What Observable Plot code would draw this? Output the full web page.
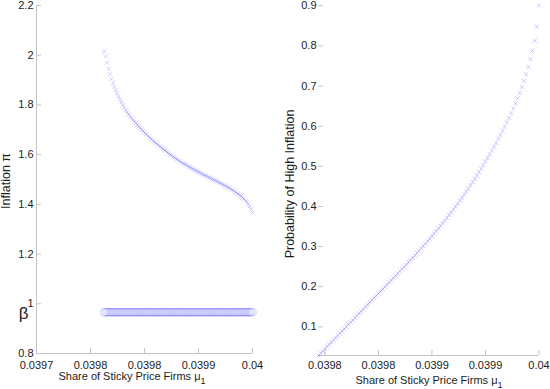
<!DOCTYPE html>
<html><head><meta charset="utf-8">
<script src="https://cdn.jsdelivr.net/npm/d3@7"></script>
<script src="https://cdn.jsdelivr.net/npm/@observablehq/plot@0.6"></script>
<style>
body{margin:0;background:#fff;}
#wrap{display:flex;width:550px;height:389px;overflow:hidden;}
#wrap svg{display:block;flex:none;}
</style></head><body><div id="wrap"></div>
<script>
// share of sticky price firms (x grid)
const mu = [
0.039794,0.039796,0.039798,0.039800,0.039802,0.039804,0.039806,0.039808,0.039810,0.039812,
0.039814,0.039816,0.039818,0.039820,0.039822,0.039824,0.039826,0.039828,0.039830,0.039832,
0.039834,0.039836,0.039838,0.039840,0.039842,0.039844,0.039846,0.039848,0.039850,0.039852,
0.039854,0.039856,0.039858,0.039860,0.039862,0.039864,0.039866,0.039868,0.039870,0.039872,
0.039874,0.039876,0.039878,0.039880,0.039882,0.039884,0.039886,0.039888,0.039890,0.039892,
0.039894,0.039896,0.039898,0.039900,0.039902,0.039904,0.039906,0.039908,0.039910,0.039912,
0.039914,0.039916,0.039918,0.039920,0.039922,0.039924,0.039926,0.039928,0.039930,0.039932,
0.039934,0.039936,0.039938,0.039940,0.039942,0.039944,0.039946,0.039948,0.039950,0.039952,
0.039954,0.039956,0.039958,0.039960,0.039962,0.039964,0.039966,0.039968,0.039970,0.039972,
0.039974,0.039976,0.039978,0.039980,0.039982,0.039984,0.039986,0.039988,0.039990,0.039992,
0.039994,0.039996,0.039998,0.040000];
// high-inflation steady state (left panel, x markers)
const inflationHigh = [
2.0161,1.9947,1.9703,1.9454,1.9239,1.9049,1.8887,1.8740,1.8601,1.8467,
1.8332,1.8218,1.8111,1.8003,1.7897,1.7789,1.7705,1.7624,1.7543,1.7468,
1.7400,1.7333,1.7266,1.7199,1.7137,1.7075,1.7013,1.6951,1.6892,1.6834,
1.6777,1.6719,1.6661,1.6608,1.6559,1.6511,1.6463,1.6415,1.6367,1.6319,
1.6273,1.6227,1.6180,1.6134,1.6088,1.6042,1.5997,1.5957,1.5916,1.5876,
1.5835,1.5795,1.5754,1.5715,1.5681,1.5646,1.5611,1.5577,1.5542,1.5508,
1.5474,1.5443,1.5412,1.5381,1.5350,1.5319,1.5288,1.5256,1.5225,1.5194,
1.5166,1.5137,1.5108,1.5079,1.5051,1.5022,1.4993,1.4964,1.4935,1.4906,
1.4875,1.4844,1.4813,1.4781,1.4750,1.4719,1.4688,1.4657,1.4623,1.4582,
1.4542,1.4501,1.4461,1.4421,1.4380,1.4334,1.4276,1.4219,1.4161,1.4104,
1.4012,1.3913,1.3802,1.3673];
// low-inflation steady state (left panel, circles)
const betaValue = 0.966;
// probability of high inflation (right panel)
const probHigh = [
0.0287,0.0342,0.0397,0.0453,0.0508,0.0563,0.0618,0.0673,0.0729,0.0784,
0.0839,0.0894,0.0949,0.1005,0.1060,0.1115,0.1170,0.1225,0.1281,0.1336,
0.1391,0.1446,0.1502,0.1557,0.1612,0.1667,0.1722,0.1778,0.1833,0.1888,
0.1943,0.1998,0.2054,0.2109,0.2164,0.2219,0.2274,0.2330,0.2385,0.2440,
0.2496,0.2552,0.2608,0.2665,0.2722,0.2780,0.2838,0.2897,0.2956,0.3015,
0.3075,0.3136,0.3198,0.3260,0.3323,0.3387,0.3451,0.3518,0.3583,0.3649,
0.3717,0.3786,0.3855,0.3926,0.3997,0.4069,0.4143,0.4218,0.4293,0.4370,
0.4448,0.4528,0.4609,0.4690,0.4773,0.4858,0.4943,0.5030,0.5119,0.5208,
0.5300,0.5393,0.5488,0.5584,0.5682,0.5782,0.5884,0.5990,0.6095,0.6206,
0.6322,0.6441,0.6565,0.6695,0.6831,0.6974,0.7128,0.7292,0.7471,0.7669,
0.7885,0.8131,0.8480,0.9007];

const leftXTicks = [0.0397, 0.039775, 0.03985, 0.039925, 0.04];
const leftXTickLabels = ["0.0397","0.0398","0.0398","0.0399","0.04"];
const leftYTicks = [0.8, 1, 1.2, 1.4, 1.6, 1.8, 2, 2.2];
const leftYTickLabels = ["0.8","1","1.2","1.4","1.6","1.8","2","2.2"];
const rightXTicks = [0.0398, 0.03985, 0.0399, 0.03995, 0.04];
const rightXTickLabels = ["0.0398","0.0398","0.0399","0.0399","0.04"];
const rightYTicks = [0.1, 0.2, 0.3, 0.4, 0.5, 0.6, 0.7, 0.8, 0.9];
const rightYTickLabels = ["0.1","0.2","0.3","0.4","0.5","0.6","0.7","0.8","0.9"];

const xLabelText = "Share of Sticky Price Firms ";
const leftYLabel = "Inflation \u03c0";
const rightYLabel = "Probability of High Inflation";

const font = '"Liberation Sans", Arial, sans-serif';
const axisColor = "#c4c4c4";
const textColor = "#1c1c1c";
const blue = "#0000ff";
const fmt = (ticks, labels) => d => labels[ticks.indexOf(d)];

const leftXDomain = [0.0397, 0.04];
const leftYDomain = [0.8, 2.2];
const rows = mu.map((m, i) => ({mu: m, pi: inflationHigh[i], p: probHigh[i]}));

const left = Plot.plot({
  width: 275, height: 389,
  marginLeft: 36, marginRight: 23, marginTop: 5, marginBottom: 36,
  style: {fontFamily: font, fontSize: "11px", color: textColor, background: "white", overflow: "visible"},
  x: {domain: leftXDomain},
  y: {domain: leftYDomain},
  marks: [
    Plot.ruleX([leftXDomain[0]], {stroke: axisColor}),
    Plot.ruleY([leftYDomain[0]], {stroke: axisColor}),
    Plot.axisX(leftXTicks, {tickSize: -5, stroke: axisColor, fill: "none", label: null}),
    Plot.axisY(leftYTicks, {tickSize: -5, stroke: axisColor, fill: "none", label: null}),
    Plot.axisX(leftXTicks, {tickSize: 0, tickPadding: 8, tickFormat: fmt(leftXTicks, leftXTickLabels), label: null, fill: textColor}),
    Plot.axisY(leftYTicks, {tickSize: 0, tickPadding: 3, tickFormat: fmt(leftYTicks, leftYTickLabels), label: null, fill: textColor}),
    Plot.text([betaValue], {x: () => leftXDomain[0], y: d => d, text: () => "\u03b2", dx: -8, dy: 1, textAnchor: "end", fontSize: 17, fill: textColor}),
    Plot.dot(rows, {x: "mu", y: () => betaValue, r: 4, stroke: blue, strokeOpacity: 0.2, strokeWidth: 0.8}),
    Plot.dot(rows, {x: "mu", y: "pi", symbol: "times", r: 2.1, stroke: blue, strokeOpacity: 0.22, strokeWidth: 0.8})
  ]
});

const right = Plot.plot({
  width: 275, height: 389,
  marginLeft: 43, marginRight: 11.5, marginTop: 5, marginBottom: 34,
  style: {fontFamily: font, fontSize: "11px", color: textColor, background: "white", overflow: "visible"},
  x: {domain: d3.extent(mu)},
  y: {domain: d3.extent(probHigh)},
  marks: [
    Plot.ruleY([d3.min(probHigh)], {stroke: axisColor}),
    Plot.axisX(rightXTicks, {tickSize: -5, stroke: axisColor, fill: "none", label: null}),
    Plot.axisY(rightYTicks, {tickSize: -5, stroke: axisColor, fill: "none", label: null}),
    Plot.axisX(rightXTicks, {tickSize: 0, tickPadding: 6, tickFormat: fmt(rightXTicks, rightXTickLabels), label: null, fill: textColor}),
    Plot.axisY(rightYTicks, {tickSize: 0, tickPadding: 2, tickFormat: fmt(rightYTicks, rightYTickLabels), label: null, fill: textColor}),
    Plot.dot(rows, {x: "mu", y: "p", symbol: "times", r: 2.1, stroke: blue, strokeOpacity: 0.25, strokeWidth: 0.8})
  ]
});

const wrap = document.getElementById("wrap");
wrap.appendChild(left);
wrap.appendChild(right);

function xLabel(svg, cx, y) {
  const t = d3.select(svg).append("text")
    .attr("x", cx).attr("y", y).attr("text-anchor", "middle")
    .attr("font-family", font).attr("font-size", 11).attr("fill", textColor);
  t.append("tspan").text(xLabelText + "\u03bc");
  t.append("tspan").attr("font-size", 9).attr("dy", 4).text("1");
}
function yLabel(svg, x, cy, txt) {
  d3.select(svg).append("text")
    .attr("transform", `translate(${x},${cy}) rotate(-90)`)
    .attr("text-anchor", "middle")
    .attr("font-family", font).attr("font-size", 12.5).attr("fill", textColor)
    .text(txt);
}
xLabel(left, 132, 380);
xLabel(right, 154, 384);
yLabel(left, 10, 181, leftYLabel);
yLabel(right, 19, 184, rightYLabel);
</script></body></html>
